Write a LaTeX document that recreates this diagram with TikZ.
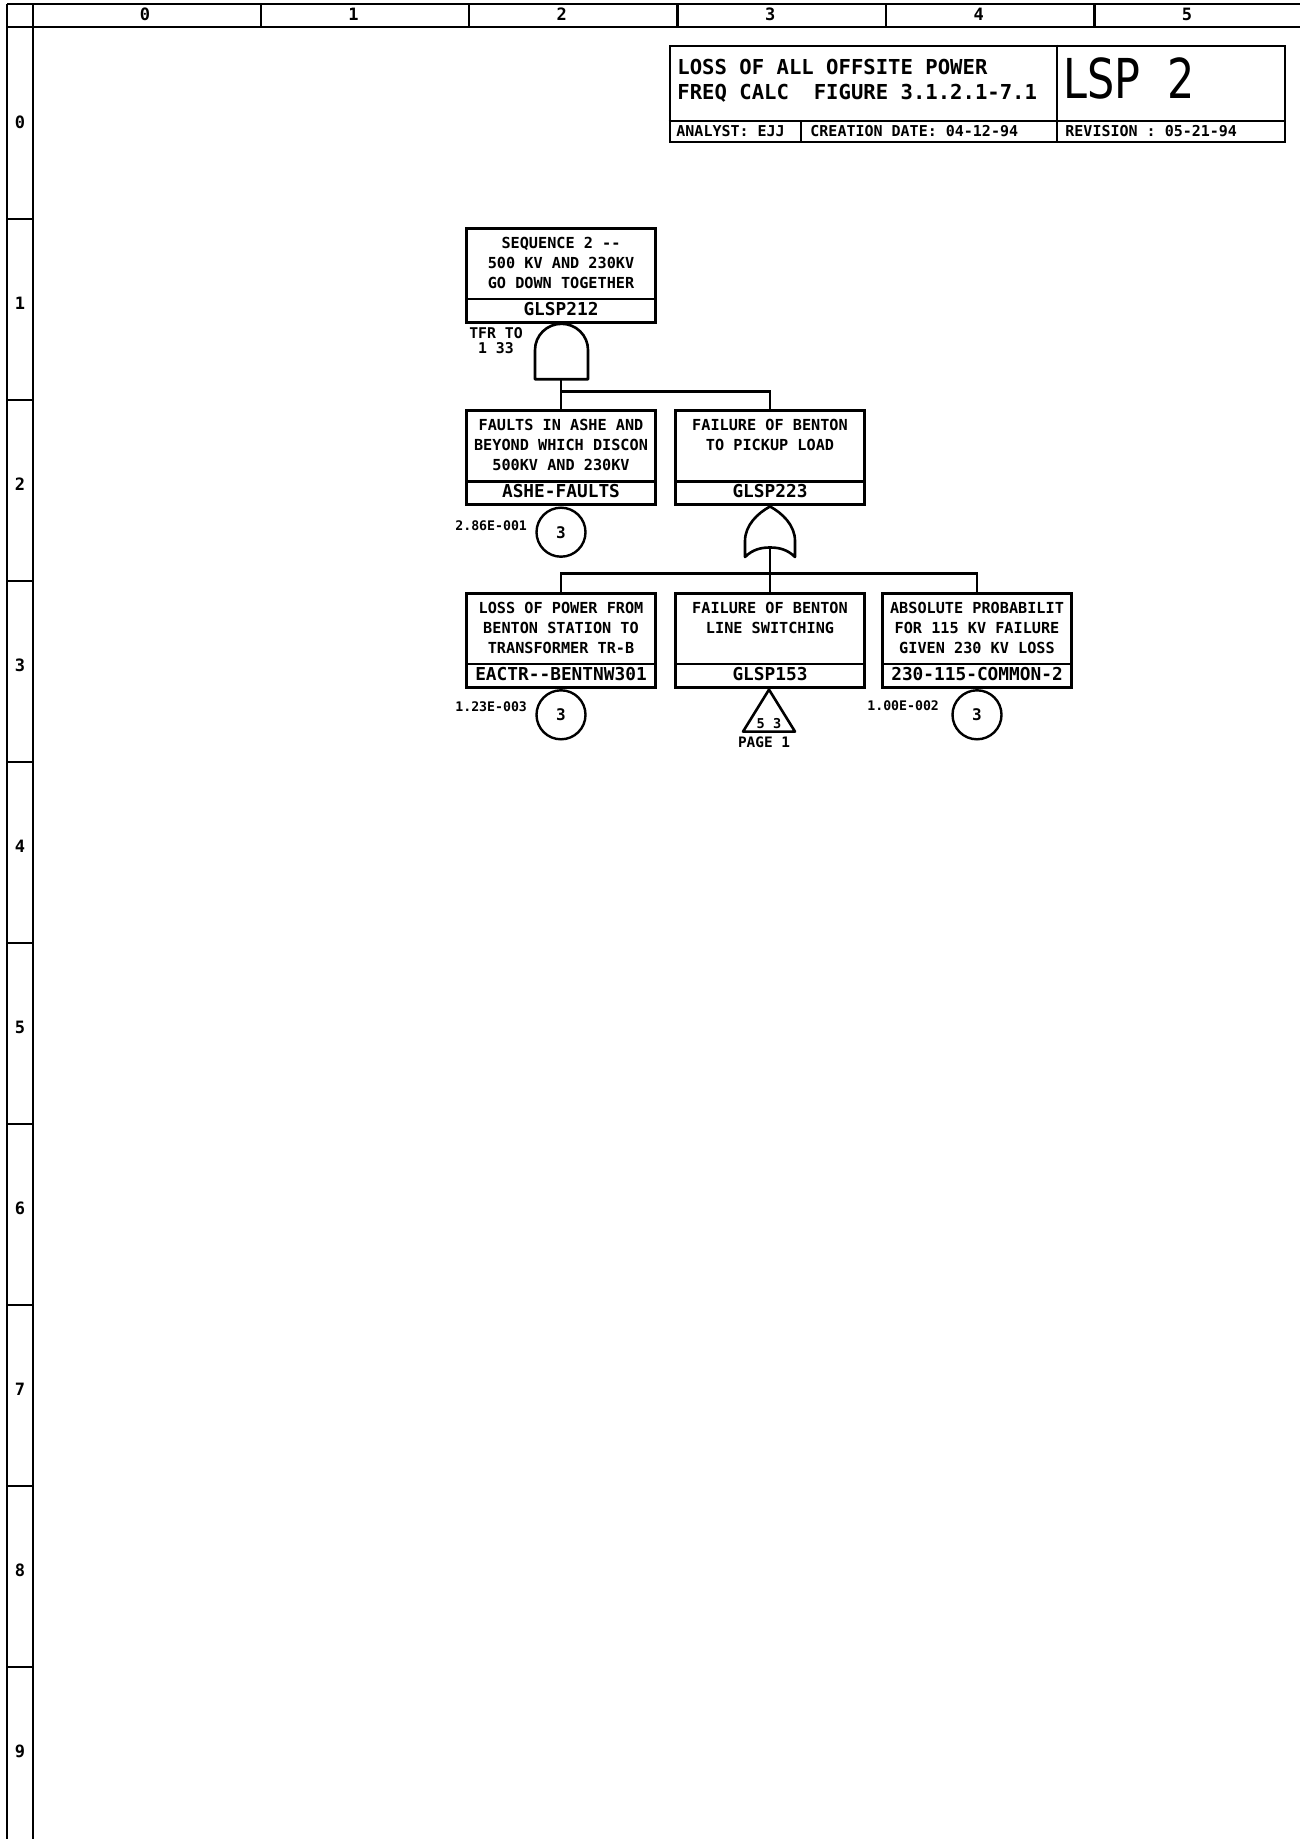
\documentclass[tikz,border=0pt]{standalone}
\usepackage{fontspec}
\setmainfont{DejaVu Sans}
\newfontfamily\plotmono{DejaVu Sans Mono}
\newfontfamily\lspface{DejaVu Sans}[FakeStretch=0.78]
\usetikzlibrary{calc}
\newcommand{\pfont}[2]{\plotmono\bfseries\fontsize{#1}{#2}\selectfont}
\newcommand{\eventbox}[5]{%
  \node[evbox] (#1) at (#2) {};
  \draw[divline] ($(#1.south west)+(0,-24.4)$) -- ($(#1.south east)+(0,-24.4)$);
  \node[desc] (#1d) at ($(#1.north)+(0,#4)$) {#3};
  \node[evid] (#1i) at ($(#1.north)+(0,82)$) {#5};}
\begin{document}
\begin{tikzpicture}[x=0.5pt,y=-0.5pt,
  frameline/.style={line width=1.2pt},
  hdr/.style={font={\pfont{8.5pt}{10pt}}, inner sep=0pt},
  evbox/.style={draw, line width=1.3pt, minimum width=94.5pt, minimum height=47pt, inner sep=0pt},
  desc/.style={font={\pfont{7.6pt}{9.9pt}}, align=center, inner sep=0pt},
  evid/.style={font={\pfont{8.9pt}{10pt}}, inner sep=0pt},
  divline/.style={line width=1.1pt},
  wire/.style={line width=1.2pt},
  gate/.style={line width=1.3pt, line join=round},
  basic/.style={draw, circle, line width=1.2pt, minimum size=24.5pt, inner sep=0pt, font={\pfont{8pt}{10pt}}},
  prob/.style={font={\pfont{6.6pt}{8pt}}, inner sep=0pt, anchor=east},
  note/.style={font={\pfont{7.4pt}{7.25pt}}, align=center, inner sep=0pt},
  ttl/.style={font={\pfont{10.3pt}{12pt}}, inner sep=0pt, anchor=west},
  small/.style={font={\pfont{7.5pt}{9pt}}, inner sep=0pt, anchor=west},
  lsp/.style={font={\lspface\fontsize{27.5pt}{30pt}\selectfont}, inner sep=0pt, anchor=west},
]
\useasboundingbox (0,0) rectangle (1300,1839);
\fill[white] (0,0) rectangle (1300,1839);

% ---------- frame ----------
\draw[frameline] (7,4) -- (1300,4);
\draw[frameline] (7,27) -- (1300,27);
\draw[frameline] (7,4) -- (7,1839);
\draw[frameline] (33,4) -- (33,1839);
\foreach \x in {260.7,469.1,677.5,885.9,1094.3} \draw[frameline] (\x,4) -- (\x,27);
\foreach \k in {0,...,8} \draw[frameline] (7,{219+181*\k}) -- (33,{219+181*\k});
\foreach \i in {0,...,5} \node[hdr] (col\i) at ({145+208.4*\i},14) {\i};
\foreach \i in {0,...,9} \node[hdr] (row\i) at (20,{122+181*\i}) {\i};

% ---------- title block ----------
\node[draw, line width=1.3pt, minimum width=307.5pt, minimum height=48pt, inner sep=0pt] (title) at (977.5,94) {};
\draw[divline] ($(title.south west)+(0,-22)$) -- ($(title.south east)+(0,-22)$);
\draw[divline] ($(title.north west)+(388,0)$) -- ($(title.south west)+(388,0)$);
\draw[divline] ($(title.south west)+(132,-22)$) -- ($(title.south west)+(132,0)$);
\node[ttl] (t1) at (677,67) {LOSS OF ALL OFFSITE POWER};
\node[ttl] (t2) at (677,93) {FREQ CALC\ \ FIGURE 3.1.2.1-7.1};
\node[lsp] (lspname) at (1063,78) {LSP\ \ 2};
\node[small] (analyst) at (676,131.5) {ANALYST: EJJ};
\node[small] (cdate) at (810,131.5) {CREATION DATE: 04-12-94};
\node[small] (rev) at (1065,131.5) {REVISION : 05-21-94};

% ---------- events ----------
\eventbox{g212}{561,275.3}{SEQUENCE 2 -{}-\\500 KV AND 230KV\\GO DOWN TOGETHER}{35.8}{GLSP212}
\eventbox{ashe}{561,457.7}{FAULTS IN ASHE AND\\BEYOND WHICH DISCON\\500KV AND 230KV}{35.8}{ASHE-FAULTS}
\eventbox{g223}{770,457.7}{FAILURE OF BENTON\\TO PICKUP LOAD}{25.9}{GLSP223}
\eventbox{eactr}{561,640.3}{LOSS OF POWER FROM\\BENTON STATION TO\\TRANSFORMER TR-B}{35.8}{EACTR-{}-BENTNW301}
\eventbox{g153}{770,640.3}{FAILURE OF BENTON\\LINE SWITCHING}{25.9}{GLSP153}
\eventbox{cmn}{977,640.3}{ABSOLUTE PROBABILIT\\FOR 115 KV FAILURE\\GIVEN 230 KV LOSS}{35.8}{230-115-COMMON-2}

% ---------- AND gate under GLSP212 ----------
\draw[gate] (535,379.3) -- (535,350) .. controls (535,335.4) and (546.9,323.8) .. (561.5,323.8)
  .. controls (576.1,323.8) and (588,335.4) .. (588,350) -- (588,379.3) -- cycle;
\coordinate (andout) at (561,379.3);
\coordinate (bar1) at (561,391.7);
\node[note] (tfr) at (496,340.5) {TFR TO\\1 33};
\draw[wire] (andout) -- (ashe.north);
\draw[wire] (bar1) -| (g223.north);

% ---------- OR gate under GLSP223 ----------
\draw[gate] (745,557) -- (745,541) .. controls (745,525) and (758,513) .. (770,506.5)
  .. controls (782,513) and (795,525) .. (795,541) -- (795,557)
  .. controls (787,549) and (778,547.5) .. (770,547.5)
  .. controls (762,547.5) and (753,549) .. (745,557) -- cycle;
\coordinate (orout) at (770,547.5);
\coordinate (bar2) at (770,573.5);
\draw[wire] (orout) -- (g153.north);
\draw[wire] (eactr.north) |- (bar2) -| (cmn.north);

% ---------- basic events ----------
\node[basic, anchor=north] (ashec) at ($(ashe.south)+(0,0.5)$) {3};
\node[basic, anchor=north] (eactrc) at ($(eactr.south)+(0,0.5)$) {3};
\node[basic, anchor=north] (cmnc) at ($(cmn.south)+(0,0.5)$) {3};
\node[prob] (ashep) at ($(ashec.west)+(-8,-6)$) {2.86E-001};
\node[prob] (eactrp) at ($(eactrc.west)+(-8,-8)$) {1.23E-003};
\node[prob] (cmnp) at ($(cmnc.west)+(-12,-9)$) {1.00E-002};

% ---------- transfer triangle ----------
\coordinate (trtop) at ($(g153.south)+(-1,1)$);
\draw[gate] (trtop) -- ($(trtop)+(-26,42)$) -- ($(trtop)+(26,42)$) -- cycle;
\node[font={\pfont{6.8pt}{8pt}}, inner sep=0pt] (trnum) at ($(trtop)+(0,33.5)$) {5 3};
\node[font={\pfont{7.2pt}{8pt}}, inner sep=0pt] (trpage) at ($(trtop)+(-5,53)$) {PAGE 1};
\end{tikzpicture}
\end{document}
